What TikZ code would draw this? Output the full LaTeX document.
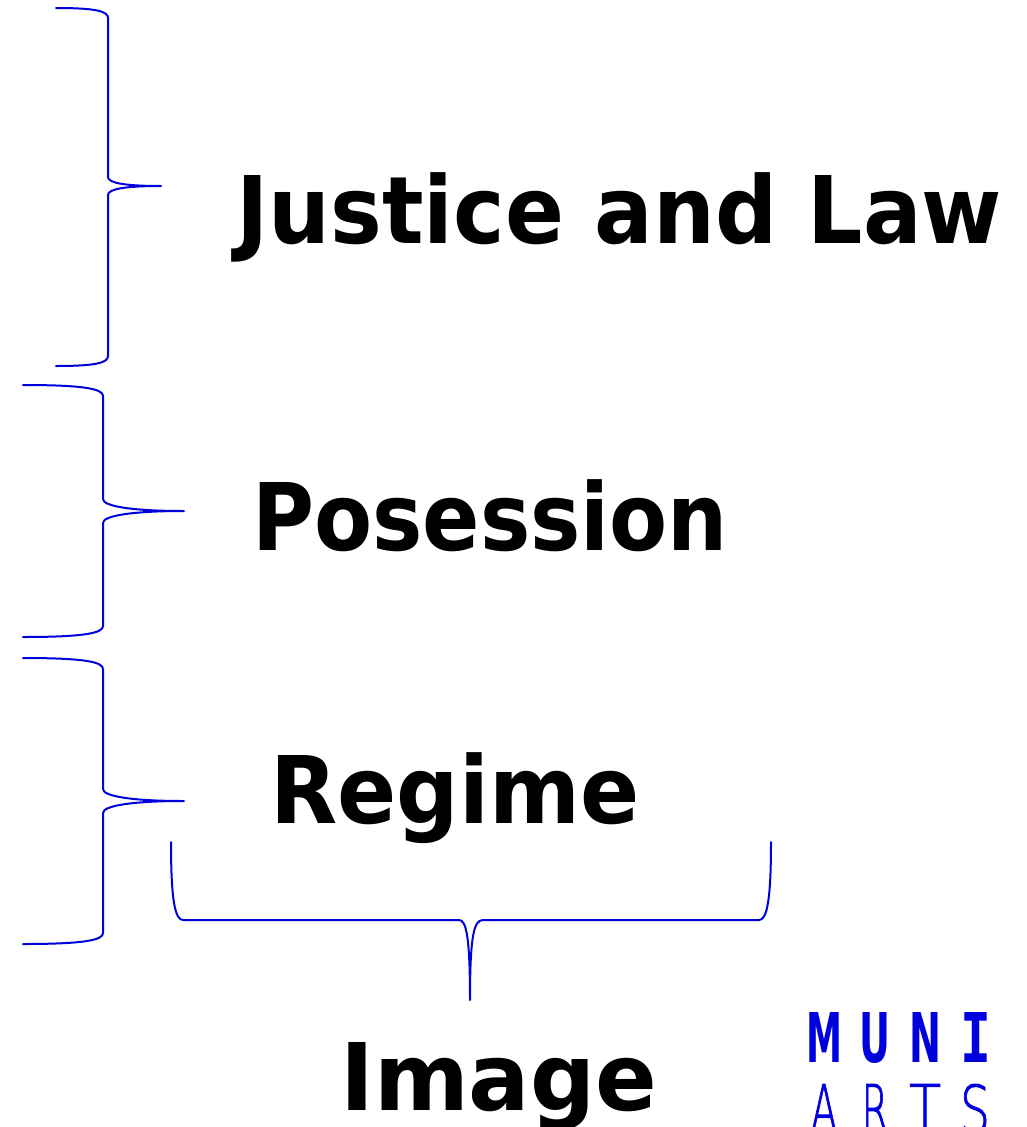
\documentclass[tikz,border=0pt]{standalone}
\usepackage{fontspec}
\usepackage{graphicx}
\setmainfont{DejaVu Sans}
\setmonofont{DejaVu Sans Mono}
\newfontfamily\thinfont{DejaVu Sans ExtraLight}[FakeBold=1.5]
\definecolor{braceblue}{RGB}{0,0,220}
\definecolor{logoblue}{RGB}{0,0,220}
\tikzset{
  bigtext/.style={anchor=base west, inner sep=0pt, font=\fontsize{93.3}{100}\selectfont\bfseries},
  bracestyle/.style={draw=braceblue, line width=2pt, line join=round, line cap=round},
  logob/.style={anchor=base, inner sep=0pt, text=logoblue, font=\fontsize{60}{60}\selectfont\bfseries},
  logot/.style={anchor=base, inner sep=0pt, text=logoblue, font=\fontsize{60}{60}\selectfont\thinfont}
}
\begin{document}
\begin{tikzpicture}[x=1pt,y=-1pt]
\useasboundingbox (0,0) rectangle (1027,1127);
\clip (0,0) rectangle (1027,1127);

% text labels
\node[bigtext] (jl) at (236,243) {\resizebox{766pt}{\height}{Justice and Law}};
\node[bigtext] (pos) at (252,550) {\resizebox{476pt}{\height}{Posession}};
\node[bigtext] (reg) at (270,823) {\resizebox{369pt}{\height}{Regime}};
\node[bigtext] (img) at (340,1110) {\resizebox{317pt}{\height}{Image}};

% brace 1
\draw[bracestyle] (56,8) .. controls (95,8) and (108,11) .. (108,18)
  -- (108,177) .. controls (108,183) and (125,186) .. (161,186)
  .. controls (125,186) and (108,189) .. (108,195)
  -- (108,356) .. controls (108,363) and (95,366) .. (56,366);
% brace 2
\draw[bracestyle] (23,385) .. controls (85,385) and (103,389) .. (103,396)
  -- (103,499) .. controls (103,506) and (130,511) .. (184,511)
  .. controls (130,511) and (103,516) .. (103,523)
  -- (103,626) .. controls (103,633) and (85,637) .. (23,637);
% brace 3
\draw[bracestyle] (23,658) .. controls (85,658) and (103,662) .. (103,669)
  -- (103,789) .. controls (103,796) and (130,801) .. (184,801)
  .. controls (130,801) and (103,806) .. (103,813)
  -- (103,933) .. controls (103,940) and (85,944) .. (23,944);
% bottom brace
\draw[bracestyle] (171,842) .. controls (171,900) and (175,920) .. (183,920)
  -- (459,920) .. controls (466,920) and (470,935) .. (470,1000)
  .. controls (470,935) and (474,920) .. (483,920)
  -- (759,920) .. controls (767,920) and (771,900) .. (771,842);

% logo
\node[logob] (lm) at (824,1062) {\resizebox{36pt}{50pt}{M}};
\node[logob] (lu) at (875,1062) {\resizebox{31pt}{50pt}{U}};
\node[logob] (ln) at (925.5,1062) {\resizebox{32pt}{50pt}{N}};
\node[logob] (li) at (975.5,1062) {\resizebox{31pt}{50pt}{\ttfamily I}};
\node[logot] (la) at (824,1133) {\resizebox{27pt}{49pt}{A}};
\node[logot] (lr) at (875,1133) {\resizebox{27pt}{49pt}{R}};
\node[logot] (lt) at (925,1133) {\resizebox{32pt}{49pt}{T}};
\node[logot] (ls) at (975,1133) {\resizebox{30pt}{49pt}{S}};
\end{tikzpicture}
\end{document}
